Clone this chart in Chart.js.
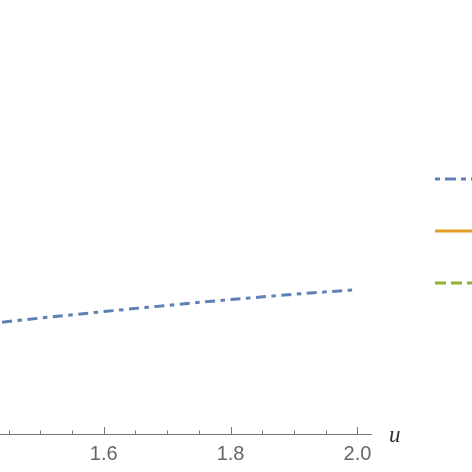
<!DOCTYPE html>
<html>
<head>
<meta charset="utf-8">
<script src="https://cdn.jsdelivr.net/npm/chart.js@4.4.1/dist/chart.umd.min.js"></script>
<style>
  html, body { margin: 0; padding: 0; background: #fff; }
  #wrap { width: 472px; height: 472px; }
</style>
</head>
<body>
<div id="wrap"><canvas id="plot"></canvas></div>
<script>
// values
const uValues = [1.4, 1.5, 1.6, 1.7, 1.8, 1.9, 2.0];
const blueSeries = [0.2514, 0.2671, 0.2820, 0.2963, 0.3097, 0.3219, 0.3329];
const orangeSeries = [];
const greenSeries = [];
const seriesLabels = ["series 1", "series 2", "series 3"];
const xTicks = [1.45, 1.5, 1.55, 1.6, 1.65, 1.7, 1.75, 1.8, 1.85, 1.9, 1.95, 2.0];
const majorTicks = [1.6, 1.8, 2.0];

const toPoints = (xs, ys) => ys.map((y, i) => ({x: xs[i], y: y}));
const isMajor = v => majorTicks.some(m => Math.abs(m - v) < 1e-6);

// ticks pointing up into the plot, axis label and legend samples
const extras = {
    id: 'extras',
    afterDraw(chart) {
        const ctx = chart.ctx;
        const xs = chart.scales.x;
        const yAxis = chart.chartArea.bottom;
        ctx.save();
        ctx.strokeStyle = '#777';
        ctx.lineWidth = 1;
        xs.ticks.forEach(t => {
            const px = Math.round(xs.getPixelForValue(t.value)) + 0.5;
            const len = isMajor(t.value) ? 7 : 3.5;
            ctx.beginPath();
            ctx.moveTo(px, yAxis);
            ctx.lineTo(px, yAxis - len);
            ctx.stroke();
        });

        ctx.fillStyle = '#333';
        ctx.font = 'italic 23px "Liberation Serif"';
        ctx.textBaseline = 'alphabetic';
        ctx.fillText('u', 389, 442);

        // legend samples (text is outside the picture)
        const rows = [179, 231, 283];
        chart.data.datasets.forEach((ds, i) => {
            ctx.strokeStyle = ds.borderColor;
            ctx.lineWidth = ds.borderWidth;
            ctx.setLineDash(ds.legendDash || []);
            ctx.beginPath();
            ctx.moveTo(435, rows[i]);
            ctx.lineTo(480, rows[i]);
            ctx.stroke();
        });
        ctx.restore();
    }
};

new Chart(document.getElementById('plot'), {
    type: 'line',
    data: {
        datasets: [
            {
                label: seriesLabels[0],
                data: toPoints(uValues, blueSeries),
                borderColor: '#5E81B5',
                borderWidth: 3,
                borderDash: [10, 5.5, 4.5, 5.5],
                legendDash: [5, 5, 11, 5],
                cubicInterpolationMode: 'monotone',
                pointRadius: 0,
                clip: false,
                fill: false
            },
            {
                label: seriesLabels[1],
                data: toPoints(uValues, orangeSeries),
                borderColor: '#E19C24',
                borderWidth: 3,
                pointRadius: 0,
                fill: false
            },
            {
                label: seriesLabels[2],
                data: toPoints(uValues, greenSeries),
                borderColor: '#8FB032',
                borderWidth: 3,
                borderDash: [11, 5],
                legendDash: [11, 5],
                pointRadius: 0,
                fill: false
            }
        ]
    },
    options: {
        responsive: true,
        maintainAspectRatio: false,
        animation: false,
        layout: { padding: { left: 0, right: 101, top: 0, bottom: 0 } },
        plugins: { legend: { display: false }, tooltip: { enabled: false } },
        scales: {
            x: {
                type: 'linear',
                min: 1.4366,
                max: 2.0213,
                afterBuildTicks: axis => { axis.ticks = xTicks.map(v => ({value: v})); },
                afterFit: axis => { axis.height = 38; },
                grid: { display: false, drawTicks: false },
                border: { display: true, color: '#777', width: 1 },
                ticks: {
                    autoSkip: false,
                    maxRotation: 0,
                    padding: 8,
                    color: '#666',
                    font: { family: 'Liberation Sans', size: 20 },
                    callback: v => isMajor(v) ? v.toFixed(1) : ''
                }
            },
            y: {
                display: false,
                min: 0,
                max: 1
            }
        }
    },
    plugins: [extras]
});
</script>
</body>
</html>
